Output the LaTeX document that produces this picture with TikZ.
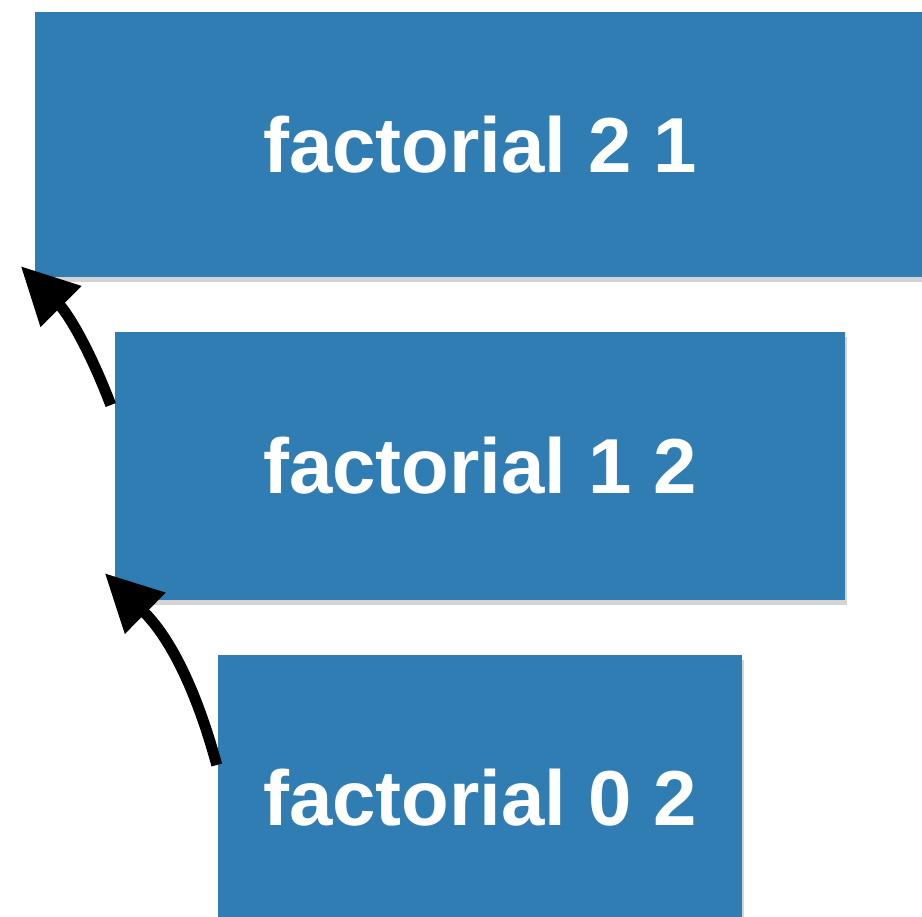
\documentclass[tikz,border=0pt]{standalone}
\usepackage{fontspec}
\setmainfont{Liberation Sans}
\usepackage{tikz}
\usetikzlibrary{arrows.meta,shadows}
\definecolor{callblue}{RGB}{47,125,179}

\begin{document}
\begin{tikzpicture}[x=1pt,y=-1pt,
  frame/.style={rectangle,fill=callblue,text=white,inner sep=0pt,
    font=\bfseries\fontsize{78}{94}\selectfont,
    drop shadow={shadow xshift=2pt,shadow yshift=-5pt,opacity=0.35}},
  ret/.style={-{Triangle[length=57pt,width=55pt]},line width=11pt,black}]
\useasboundingbox (0,0) rectangle (922,917);
\node[frame,minimum width=890pt,minimum height=265pt] (box1) at (480,144.5) {factorial 2 1};
\node[frame,minimum width=730pt,minimum height=268pt] (box2) at (480,466) {factorial 1 2};
\node[frame,minimum width=524pt,minimum height=286pt] (box3) at (480,798) {factorial 0 2};
\coordinate (tip1) at ([shift={(-14pt,11pt)}]box1.south west);
\coordinate (tail1) at ([shift={(-4pt,61pt)}]box2.west);
\coordinate (tip2) at ([shift={(-10pt,27pt)}]box2.south west);
\coordinate (tail2) at ([shift={(-1pt,33pt)}]box3.west);
\draw[ret] (tail1) to[bend right=12] (tip1);
\draw[ret] (tail2) to[bend right=15] (tip2);
\end{tikzpicture}
\end{document}
